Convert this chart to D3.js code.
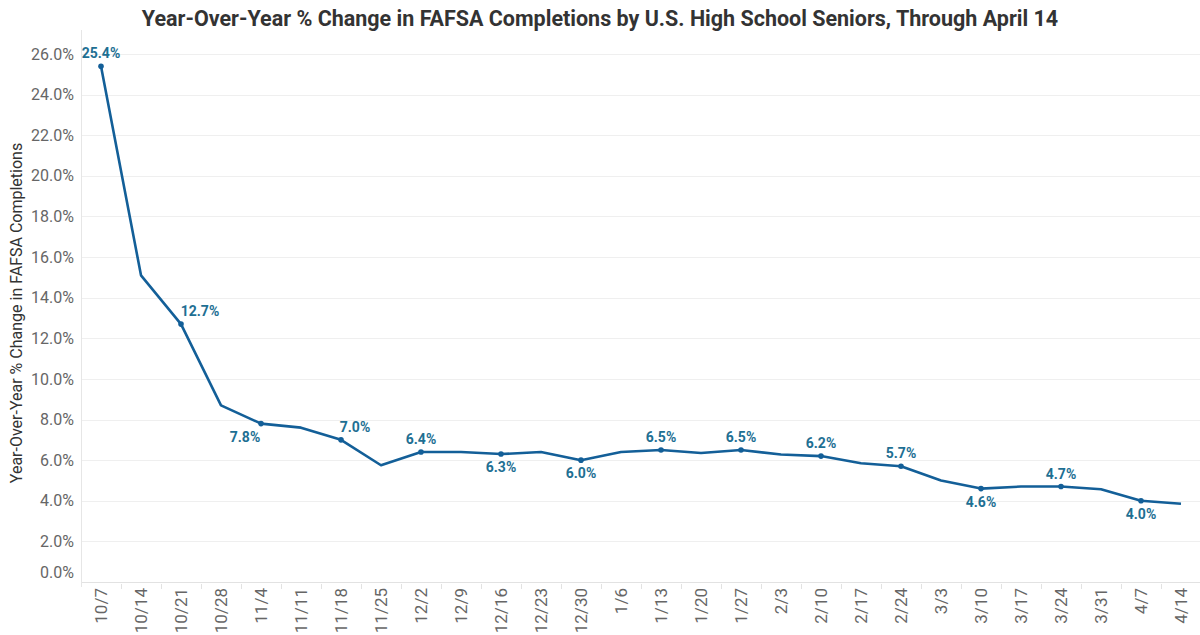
<!DOCTYPE html>
<html>
<head>
<meta charset="utf-8">
<script src="https://cdn.jsdelivr.net/npm/d3@7"></script>
<style>
body { margin: 0; background: #fff; font-family: Roboto, "Noto Sans", sans-serif; }
</style>
</head>
<body>
<div id="chart"></div>
<script>
// Data

var weeks = ['10/7', '10/14', '10/21', '10/28', '11/4', '11/11', '11/18', '11/25', '12/2', '12/9',
	'12/16', '12/23', '12/30', '1/6', '1/13', '1/20', '1/27', '2/3', '2/10', '2/17', '2/24', '3/3',
	'3/10', '3/17', '3/24', '3/31', '4/7', '4/14'];
var yoyChange = [25.4, 15.1, 12.7, 8.7, 7.8, 7.6, 7.0, 5.75, 6.4, 6.4,
	6.3, 6.4, 6.0, 6.4, 6.5, 6.35, 6.5, 6.28, 6.2, 5.85, 5.7, 5.0,
	4.6, 4.7, 4.7, 4.57, 4.0, 3.85];
// 'a' = label above, 'b' = label below, '' = no label
var labelPos = ['a', '', 'a', '', 'b', '', 'a', '', 'a', '',
	'b', '', 'b', '', 'a', '', 'a', '', 'a', '', 'a', '',
	'b', '', 'a', '', 'b', ''];
var yTicks = d3.range(0, 27, 2);

// Config

var width = 1200, height = 635;
var margin = { top: 54, right: -1, bottom: 53, left: 81 };
var lineColor = '#135f98';
var labelColor = '#1e6f93';
// labels that sit beside their point rather than centred on it
var labelNudge = { '12.7%': 19, '7.8%': -16, '7.0%': 14 };

var svg = d3.select('#chart').append('svg')
	.attr('width', width)
	.attr('height', height);

var x = d3.scaleBand()
	.domain(weeks)
	.range([margin.left, width - margin.right]);

var y = d3.scaleLinear()
	.domain([0, 26])
	.range([height - margin.bottom, margin.top]);

// Title
svg.append('text')
	.attr('x', 600)
	.attr('y', 26)
	.attr('text-anchor', 'middle')
	.attr('font-size', 21.5)
	.attr('font-weight', 'bold')
	.attr('fill', '#333')
	.text('Year-Over-Year % Change in FAFSA Completions by U.S. High School Seniors, Through April 14');

// Grid
svg.append('g')
	.selectAll('line')
	.data(yTicks)
	.enter().append('line')
		.attr('x1', margin.left)
		.attr('x2', width)
		.attr('y1', d => Math.round(y(d)) + 0.5)
		.attr('y2', d => Math.round(y(d)) + 0.5)
		.attr('stroke', d => d === 0 ? '#e2e2e2' : '#efefef');

// Left axis line
svg.append('line')
	.attr('x1', margin.left + 0.5).attr('x2', margin.left + 0.5)
	.attr('y1', 30).attr('y2', y(0) + 5)
	.attr('stroke', '#e6e6e6');

// Y tick labels
svg.append('g')
	.selectAll('text')
	.data(yTicks)
	.enter().append('text')
		.attr('x', 74)
		.attr('y', d => d === 0 ? y(d) - 10 : y(d))
		.attr('dy', '0.35em')
		.attr('text-anchor', 'end')
		.attr('font-size', 16)
		.attr('fill', '#666')
		.text(d => d.toFixed(1) + '%');

// Y axis title
svg.append('text')
	.attr('transform', `translate(22, ${(margin.top + y(0)) / 2 - 5}) rotate(-90)`)
	.attr('text-anchor', 'middle')
	.attr('font-size', 16)
	.attr('fill', '#333')
	.text('Year-Over-Year % Change in FAFSA Completions');

// X ticks
var xAxis = svg.append('g');
xAxis.selectAll('line')
	.data(weeks.slice(1))
	.enter().append('line')
		.attr('x1', d => Math.round(x(d)) + 0.5)
		.attr('x2', d => Math.round(x(d)) + 0.5)
		.attr('y1', y(0) + 2)
		.attr('y2', y(0) + 7)
		.attr('stroke', '#e2e2e2');
xAxis.selectAll('text')
	.data(weeks)
	.enter().append('text')
		.attr('transform', d => `translate(${x(d) + x.bandwidth() / 2 + 6}, ${y(0) + 6}) rotate(-90)`)
		.attr('text-anchor', 'end')
		.attr('font-size', 17)
		.attr('fill', '#666')
		.text(d => d);

// Line
var points = weeks.map((w, i) => ({ week: w, value: yoyChange[i], pos: labelPos[i] }));
var line = d3.line()
	.x(d => x(d.week) + x.bandwidth() / 2)
	.y(d => y(d.value));

svg.append('path')
	.datum(points)
	.attr('d', line)
	.attr('fill', 'none')
	.attr('stroke', lineColor)
	.attr('stroke-width', 2.6)
	.attr('stroke-linejoin', 'round');

var labelled = points.filter(d => d.pos);
var fmt = d => d.value.toFixed(1) + '%';

svg.append('g')
	.selectAll('circle')
	.data(labelled)
	.enter().append('circle')
		.attr('cx', d => x(d.week) + x.bandwidth() / 2)
		.attr('cy', d => y(d.value))
		.attr('r', 2.8)
		.attr('fill', lineColor);

svg.append('g')
	.selectAll('text')
	.data(labelled)
	.enter().append('text')
		.attr('x', d => x(d.week) + x.bandwidth() / 2 + (labelNudge[fmt(d)] || 0))
		.attr('y', d => y(d.value) + (d.pos === 'a' ? -8 : 18))
		.attr('text-anchor', 'middle')
		.attr('font-size', 14)
		.attr('font-weight', 'bold')
		.attr('fill', labelColor)
		.text(fmt);
</script>
</body>
</html>
